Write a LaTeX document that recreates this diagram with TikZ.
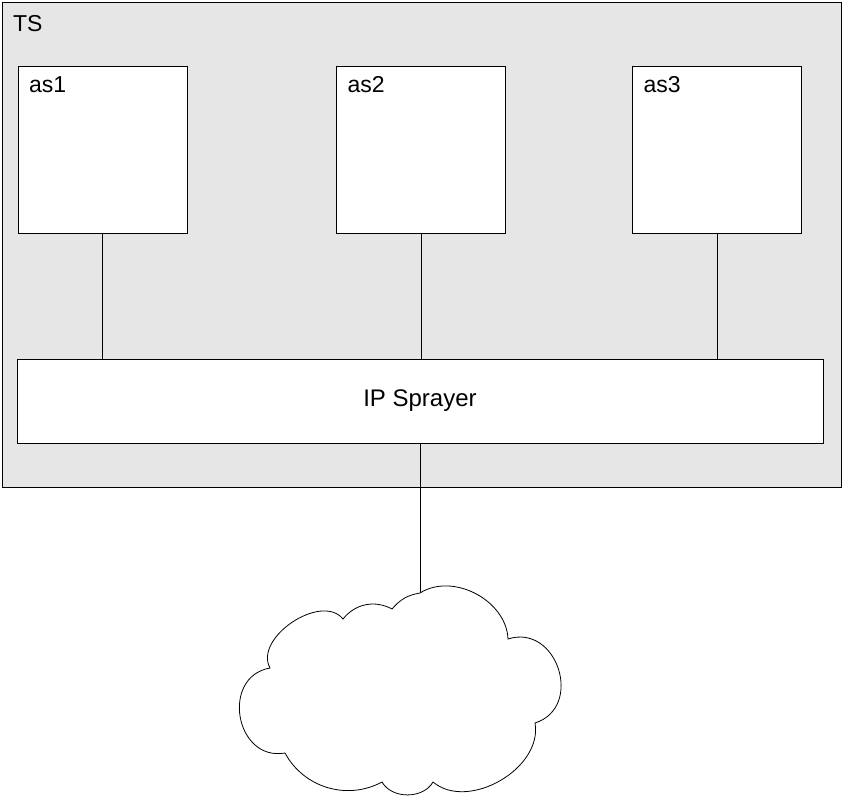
\documentclass[tikz,border=0pt]{standalone}
\usepackage{fontspec}
\setmainfont{Liberation Sans}
\definecolor{shell}{RGB}{230, 230, 230}
\usepackage{tikz}
\usetikzlibrary{calc,positioning}
\newcommand{\lbl}[1]{\fontsize{23}{26}\selectfont #1}

\begin{document}
\begin{tikzpicture}[x=1pt, y=-1pt, line width=0.8pt,
    box/.style={draw, fill=white, minimum width=169pt, minimum height=167pt, inner sep=0pt},
    tag/.style={anchor=base west, inner sep=0pt}]
    \useasboundingbox (0,0) rectangle (842,799);

    % outer TS frame
    \node[draw, fill=shell, minimum width=839pt, minimum height=485pt, inner sep=0pt] (ts) at (421.5,244.5) {};
    \node[tag] (tslbl) at ($(ts.north west)+(11,30)$) {\lbl{TS}};

    % servers
    \node[box] (as1) at (102.5,149.5) {};
    \node[box] (as2) at (421,149.5) {};
    \node[box] (as3) at (717,149.5) {};
    \foreach \s in {as1,as2,as3}
        \node[tag] (\s lbl) at ($(\s.north west)+(11,27)$) {\lbl{\s}};

    % sprayer
    \node[draw, fill=white, minimum width=806pt, minimum height=84pt, inner sep=0pt] (spray) at (420,401)
        {\fontsize{24}{28}\selectfont IP Sprayer};
    \foreach \s in {as1,as2,as3}
        \draw (\s.south) -- (\s.south |- spray.north);

    % cloud
    \coordinate (cloudtop) at (420,593);
    \draw[fill=white] (392,609) to[bend left=20] (cloudtop)
        to[bend left=60] (508,639)
        to[bend left=90, looseness=1.5] (535,723)
        to[bend left=70] (433,782)
        to[bend left=60] (382,782)
        to[bend left=45] (285,753)
        to[bend left=90, looseness=1.5] (270,668)
        to[bend left=85] (343,619)
        to[bend left=40] cycle;
    \draw (spray.south) -- (cloudtop);
\end{tikzpicture}
\end{document}
